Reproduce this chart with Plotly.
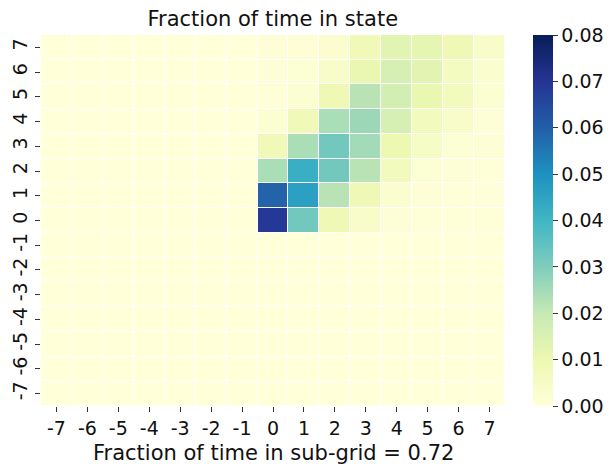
import plotly.graph_objects as go

x_labels = [-7, -6, -5, -4, -3, -2, -1, 0, 1, 2, 3, 4, 5, 6, 7]
y_labels = [-7, -6, -5, -4, -3, -2, -1, 0, 1, 2, 3, 4, 5, 6, 7]

# rows listed from top (y=7) down to y=0; columns x=-7..7
row_y7 = [0.0002]*7 + [0.0008, 0.0008, 0.0025, 0.008, 0.013, 0.012, 0.009, 0.004]
row_y6 = [0.0002]*7 + [0.0008, 0.0015, 0.004, 0.011, 0.016, 0.013, 0.006, 0.003]
row_y5 = [0.0002]*7 + [0.0005, 0.002, 0.009, 0.022, 0.017, 0.011, 0.007, 0.002]
row_y4 = [0.0002]*7 + [0.002, 0.008, 0.024, 0.026, 0.016, 0.007, 0.004, 0.001]
row_y3 = [0.0002]*7 + [0.008, 0.024, 0.032, 0.025, 0.010, 0.005, 0.0015, 0.0008]
row_y2 = [0.0002]*7 + [0.024, 0.042, 0.032, 0.022, 0.007, 0.0015, 0.0008, 0.0005]
row_y1 = [0.0002]*7 + [0.059, 0.046, 0.022, 0.009, 0.003, 0.001, 0.0005, 0.0003]
row_y0 = [0.0002]*7 + [0.069, 0.032, 0.009, 0.004, 0.001, 0.0005, 0.0005, 0.0004]
row_neg = [0.0002]*15

z_top_down = [row_y7, row_y6, row_y5, row_y4, row_y3, row_y2, row_y1, row_y0,
              row_neg, row_neg, row_neg, row_neg, row_neg, row_neg, row_neg]
z = list(reversed(z_top_down))  # bottom (y=-7) first

cbar_vals = [0, 0.01, 0.02, 0.03, 0.04, 0.05, 0.06, 0.07, 0.08]
cbar_text = ["0.00", "0.01", "0.02", "0.03", "0.04", "0.05", "0.06", "0.07", "0.08"]

ylgnbu = [[0.0, "#ffffd9"], [0.125, "#edf8b1"], [0.25, "#c7e9b4"], [0.375, "#7fcdbb"],
          [0.5, "#41b6c4"], [0.625, "#1d91c0"], [0.75, "#225ea8"], [0.875, "#253494"],
          [1.0, "#081d58"]]

FONT = "DejaVu Sans"

fig = go.Figure(go.Heatmap(
    z=z, x=x_labels, y=y_labels,
    colorscale=ylgnbu, zmin=0, zmax=0.08,
    xgap=1, ygap=1,
    colorbar=dict(
        thickness=20, len=1, lenmode="fraction", y=0.5, yanchor="middle",
        x=(533 - 41) / 464, xanchor="left", xpad=0, ypad=0, outlinewidth=0,
        tickvals=cbar_vals, ticktext=cbar_text,
        ticks="outside", ticklen=5, tickcolor="#333", tickwidth=1,
        tickfont=dict(family=FONT, size=19, color="#111"),
    ),
    hoverinfo="skip",
))

fig.update_layout(
    width=613, height=464,
    margin=dict(l=41, r=108, t=35, b=58, autoexpand=False),
    paper_bgcolor="white", plot_bgcolor="white",
    title=dict(text="Fraction of time in state", x=0.445, xanchor="center",
               y=1 - 19/464, yanchor="middle", yref="container",
               font=dict(family=FONT, size=21, color="#111")),
    xaxis=dict(
        tickmode="array", tickvals=x_labels, ticktext=[str(v) for v in x_labels],
        ticks="outside", ticklen=5, tickcolor="#333", tickwidth=1,
        tickfont=dict(family=FONT, size=19, color="#111"),
        showgrid=False, zeroline=False, showline=False, automargin=False,
    ),
    yaxis=dict(
        tickmode="array", tickvals=y_labels, ticktext=[str(v) for v in y_labels],
        ticks="outside", ticklen=5, tickcolor="#333", tickwidth=1, tickangle=-90,
        tickfont=dict(family=FONT, size=19, color="#111"),
        showgrid=False, zeroline=False, showline=False, automargin=False,
    ),
    annotations=[dict(
        text="Fraction of time in sub-grid = 0.72",
        xref="paper", yref="paper", x=0.5, y=-47/371,
        xanchor="center", yanchor="middle", showarrow=False,
        font=dict(family=FONT, size=21, color="#111"),
    )],
)

fig.write_html("out.html", config={"displayModeBar": False},
               post_script="document.body.style.margin='0';")
